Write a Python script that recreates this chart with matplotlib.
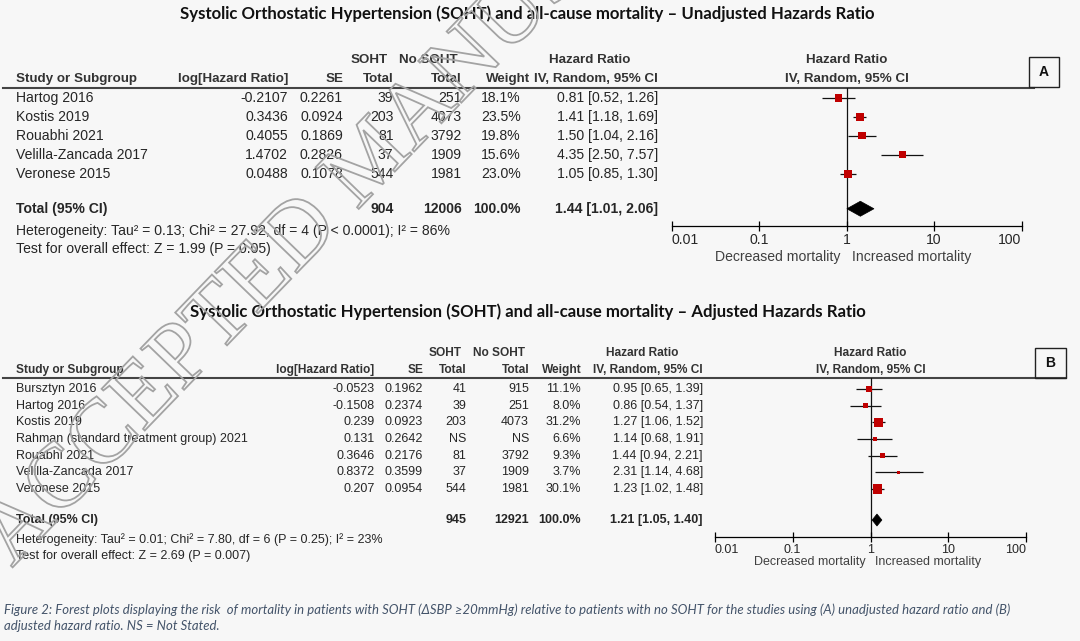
"""
Forest plot SOHT vs mortalitas (unadjusted / adjusted hazard ratio),
digambar ulang dengan matplotlib dan disimpan ke out.png.
"""

import matplotlib

matplotlib.use("Agg")  # backend non-interaktif
import matplotlib.patheffects as pe
import matplotlib.pyplot as plt
import numpy as np
from matplotlib.patches import Polygon, Rectangle
from matplotlib.ticker import NullLocator

# --- Panel A: unadjusted hazard ratio ---
A_STUDIES = ["Hartog 2016", "Kostis 2019", "Rouabhi 2021", "Velilla-Zancada 2017", "Veronese 2015"]
A_LOGHR = [-0.2107, 0.3436, 0.4055, 1.4702, 0.0488]
A_SE = [0.2261, 0.0924, 0.1869, 0.2826, 0.1078]
A_N_SOHT = [39, 203, 81, 37, 544]
A_N_NO = [251, 4073, 3792, 1909, 1981]
A_WEIGHT = [18.1, 23.5, 19.8, 15.6, 23.0]
A_HR = [0.81, 1.41, 1.50, 4.35, 1.05]
A_LO = [0.52, 1.18, 1.04, 2.50, 0.85]
A_HI = [1.26, 1.69, 2.16, 7.57, 1.30]
A_TOTAL_N = [904, 12006]
A_TOTAL_HR = [1.44, 1.01, 2.06]
A_HET = "Heterogeneity: Tau² = 0.13; Chi² = 27.92, df = 4 (P < 0.0001); I² = 86%"
A_TEST = "Test for overall effect: Z = 1.99 (P = 0.05)"
A_TITLE = "Systolic Orthostatic Hypertension (SOHT) and all-cause mortality – Unadjusted Hazards Ratio"

# --- Panel B: adjusted hazard ratio ---
B_STUDIES = ["Bursztyn 2016", "Hartog 2016", "Kostis 2019", "Rahman (standard treatment group) 2021",
             "Rouabhi 2021", "Velilla-Zancada 2017", "Veronese 2015"]
B_LOGHR = [-0.0523, -0.1508, 0.239, 0.131, 0.3646, 0.8372, 0.207]
B_SE = [0.1962, 0.2374, 0.0923, 0.2642, 0.2176, 0.3599, 0.0954]
B_N_SOHT = [41, 39, 203, None, 81, 37, 544]
B_N_NO = [915, 251, 4073, None, 3792, 1909, 1981]
B_WEIGHT = [11.1, 8.0, 31.2, 6.6, 9.3, 3.7, 30.1]
B_HR = [0.95, 0.86, 1.27, 1.14, 1.44, 2.31, 1.23]
B_LO = [0.65, 0.54, 1.06, 0.68, 0.94, 1.14, 1.02]
B_HI = [1.39, 1.37, 1.52, 1.91, 2.21, 4.68, 1.48]
B_TOTAL_N = [945, 12921]
B_TOTAL_HR = [1.21, 1.05, 1.40]
B_HET = "Heterogeneity: Tau² = 0.01; Chi² = 7.80, df = 6 (P = 0.25); I² = 23%"
B_TEST = "Test for overall effect: Z = 2.69 (P = 0.007)"
B_TITLE = "Systolic Orthostatic Hypertension (SOHT) and all-cause mortality – Adjusted Hazards Ratio"

TICKS = [0.01, 0.1, 1, 10, 100]
TICK_LABELS = ["0.01", "0.1", "1", "10", "100"]

CAPTION_1 = ("Figure 2: Forest plots displaying the risk  of mortality in patients with SOHT (ΔSBP ≥20mmHg) "
             "relative to patients with no SOHT for the studies using (A) unadjusted hazard ratio and (B)")
CAPTION_2 = "adjusted hazard ratio. NS = Not Stated."

# --- Layout (piksel, y dari atas) ---
W, H = 1080, 641
BG = "#f7f7f7"
TXT = "#262626"
HEAD = "#333333"
RED = "#c00000"
TABLE_FONT = ["Liberation Sans", "DejaVu Sans"]
TITLE_FONT = ["Lato", "DejaVu Sans"]

LAY_A = dict(title_x=527.5, title_y=14, title_w=691,
             sub_y=60, head_y=79, line_y=88, line_x1=1034, row0=98, dy=18.9,
             het_y=231, test_y=249, fs=10.1,
             c_study=16.5, c_loghr=288, c_se=343, c_n1=393.5, c_n2=461.5, c_w=521, c_w_head=530,
             soht_c=369, nosoht_c=428, hr_head_c=590, c_hr=658,
             fx0=671.5, fx1=1021.5, axis_y=226, dm_y=256.5, dm_gap=6,
             box=(1029, 56.7, 30, 30.3), diamond_h=15)
LAY_B = dict(title_x=528, title_y=312, title_w=672,
             sub_y=353, head_y=370, line_y=378.3, line_x1=1065.7, row0=389, dy=16.67,
             het_y=539.5, test_y=556, fs=9.0,
             c_study=15.5, c_loghr=374.5, c_se=423, c_n1=466.5, c_n2=529, c_w=581, c_w_head=581.5,
             soht_c=445, nosoht_c=499.3, hr_head_c=642.5, c_hr=703,
             fx0=714.6, fx1=1026.4, axis_y=536.5, dm_y=562, dm_gap=4.5,
             box=(1035, 348, 30.7, 30.3), diamond_h=12)


def fit_width(fig, txt, target_w):
    """Skala ukuran font supaya lebar teks sama dengan target (piksel)."""
    r = fig.canvas.get_renderer()
    w = txt.get_window_extent(renderer=r).width
    txt.set_fontsize(txt.get_fontsize() * target_w / w)


def draw_panel(fig, bg, lay, title, letter, studies, loghr, se, n1, n2, weight,
               hr, lo, hi, total_n, total_hr, het, test):
    fs = lay["fs"]
    kw = dict(fontsize=fs, color=TXT, family=TABLE_FONT, va="center")
    hk = dict(kw, weight="bold", color=HEAD, fontsize=fs * 0.95)

    t = bg.text(lay["title_x"], lay["title_y"], title, ha="center", va="center",
                family=TITLE_FONT, weight="bold", fontsize=12, color="#111111")
    fit_width(fig, t, lay["title_w"])

    # header tabel
    bg.text(lay["soht_c"], lay["sub_y"], "SOHT", ha="center", **hk)
    bg.text(lay["nosoht_c"], lay["sub_y"], "No SOHT", ha="center", **hk)
    bg.text(lay["hr_head_c"], lay["sub_y"], "Hazard Ratio", ha="center", **hk)
    x_one = lay["fx0"] + (lay["fx1"] - lay["fx0"]) / 2
    bg.text(x_one, lay["sub_y"], "Hazard Ratio", ha="center", **hk)
    hy = lay["head_y"]
    bg.text(lay["c_study"], hy, "Study or Subgroup", ha="left", **hk)
    bg.text(lay["c_loghr"], hy, "log[Hazard Ratio]", ha="right", **hk)
    bg.text(lay["c_se"], hy, "SE", ha="right", **hk)
    bg.text(lay["c_n1"], hy, "Total", ha="right", **hk)
    bg.text(lay["c_n2"], hy, "Total", ha="right", **hk)
    bg.text(lay["c_w_head"], hy, "Weight", ha="right", **hk)
    bg.text(lay["c_hr"], hy, "IV, Random, 95% CI", ha="right", **hk)
    bg.text(x_one, hy, "IV, Random, 95% CI", ha="center", **hk)
    bg.plot([3, lay["line_x1"]], [lay["line_y"], lay["line_y"]], color="#444444", lw=1.5)

    # kotak label panel
    bx, by, bw, bh = lay["box"]
    bg.add_patch(Rectangle((bx, by), bw, bh, fill=False, edgecolor="#222222", lw=1.0, zorder=3))
    bg.text(bx + bw / 2, by + bh / 2, letter, ha="center", va="center", fontsize=10,
            weight="bold", family=TABLE_FONT, color="#111111")

    # baris studi
    n = len(studies)
    ys = [lay["row0"] + i * lay["dy"] for i in range(n)]
    for i, y in enumerate(ys):
        bg.text(lay["c_study"], y, studies[i], ha="left", **kw)
        bg.text(lay["c_loghr"], y, f"{loghr[i]:g}", ha="right", **kw)
        bg.text(lay["c_se"], y, f"{se[i]:g}", ha="right", **kw)
        bg.text(lay["c_n1"], y, "NS" if n1[i] is None else str(n1[i]), ha="right", **kw)
        bg.text(lay["c_n2"], y, "NS" if n2[i] is None else str(n2[i]), ha="right", **kw)
        bg.text(lay["c_w"], y, f"{weight[i]:.1f}%", ha="right", **kw)
        bg.text(lay["c_hr"], y, f"{hr[i]:.2f} [{lo[i]:.2f}, {hi[i]:.2f}]", ha="right", **kw)

    # baris total
    ty = lay["row0"] + (n + 0.86) * lay["dy"]
    tk = dict(kw, weight="bold")
    bg.text(lay["c_study"], ty, "Total (95% CI)", ha="left", **tk)
    bg.text(lay["c_n1"], ty, str(total_n[0]), ha="right", **tk)
    bg.text(lay["c_n2"], ty, str(total_n[1]), ha="right", **tk)
    bg.text(lay["c_w"], ty, f"{sum(weight):.1f}%", ha="right", **tk)
    est, tlo, thi = total_hr
    bg.text(lay["c_hr"], ty, f"{est:.2f} [{tlo:.2f}, {thi:.2f}]", ha="right", **tk)
    bg.text(lay["c_study"], lay["het_y"], het, ha="left", **kw)
    bg.text(lay["c_study"], lay["test_y"], test, ha="left", **kw)

    # forest plot
    ax = fig.add_axes([lay["fx0"] / W, 1 - lay["axis_y"] / H,
                       (lay["fx1"] - lay["fx0"]) / W, (lay["axis_y"] - lay["line_y"]) / H])
    ax.set_xscale("log")
    ax.set_xlim(0.01, 100)
    ax.set_ylim(lay["axis_y"], lay["line_y"])
    ax.patch.set_alpha(0)
    for s in ["top", "left", "right"]:
        ax.spines[s].set_visible(False)
    ax.spines["bottom"].set_linewidth(0.9)
    ax.set_yticks([])
    ax.set_xticks(TICKS)
    ax.set_xticklabels(TICK_LABELS, fontsize=fs, family=TABLE_FONT, color=TXT)
    ax.xaxis.set_minor_locator(NullLocator())
    ax.tick_params(axis="x", direction="inout", length=6.5, width=0.9, pad=2)
    labels = ax.get_xticklabels()
    labels[0].set_horizontalalignment("left")
    labels[-1].set_horizontalalignment("right")

    ax.axvline(1, color="#111111", lw=0.9, zorder=1)
    ax.hlines(ys, lo, hi, color="#111111", lw=0.9, zorder=2)
    side_pt = 1.65 * np.sqrt(np.array(weight)) * 0.72
    ax.scatter(hr, ys, s=side_pt ** 2, marker="s", color=RED, linewidths=0, zorder=3)
    dh = lay["diamond_h"] / 2
    ax.add_patch(Polygon([(tlo, ty), (est, ty - dh), (thi, ty), (est, ty + dh)],
                         closed=True, facecolor="black", edgecolor="black", lw=0.5, zorder=3))

    g = lay["dm_gap"]
    dk = dict(kw, color="#404040")
    bg.text(x_one - g, lay["dm_y"], "Decreased mortality", ha="right", **dk)
    bg.text(x_one + g, lay["dm_y"], "Increased mortality", ha="left", **dk)


def main():
    fig = plt.figure(figsize=(W / 100, H / 100), dpi=100, facecolor=BG)
    bg = fig.add_axes([0, 0, 1, 1])
    bg.set_xlim(0, W)
    bg.set_ylim(H, 0)
    bg.axis("off")

    draw_panel(fig, bg, LAY_A, A_TITLE, "A", A_STUDIES, A_LOGHR, A_SE, A_N_SOHT, A_N_NO, A_WEIGHT,
               A_HR, A_LO, A_HI, A_TOTAL_N, A_TOTAL_HR, A_HET, A_TEST)
    draw_panel(fig, bg, LAY_B, B_TITLE, "B", B_STUDIES, B_LOGHR, B_SE, B_N_SOHT, B_N_NO, B_WEIGHT,
               B_HR, B_LO, B_HI, B_TOTAL_N, B_TOTAL_HR, B_HET, B_TEST)

    # keterangan gambar
    cap = dict(ha="left", va="center", family=TITLE_FONT, style="italic", color="#44546a", fontsize=8.5)
    c1 = bg.text(4, 609.5, CAPTION_1, **cap)
    fit_width(fig, c1, 1001)
    c2 = bg.text(4, 626.5, CAPTION_2, **cap)
    c2.set_fontsize(c1.get_fontsize())

    # watermark "ACCEPTED MANUSCRIPT" (huruf garis luar)
    fig.text(12 / W, 1 - 568 / H, "ACCEPTED MANUSCRIPT", rotation=46, rotation_mode="anchor",
             ha="left", va="baseline", fontsize=66, family=["Liberation Serif", "DejaVu Serif"],
             color="#a0a0a0", zorder=10,
             path_effects=[pe.PathPatchEffect(edgecolor="#a3a3a3", facecolor="none", linewidth=1.3)])

    fig.savefig("out.png", dpi=100, facecolor=BG)


if __name__ == "__main__":
    main()
